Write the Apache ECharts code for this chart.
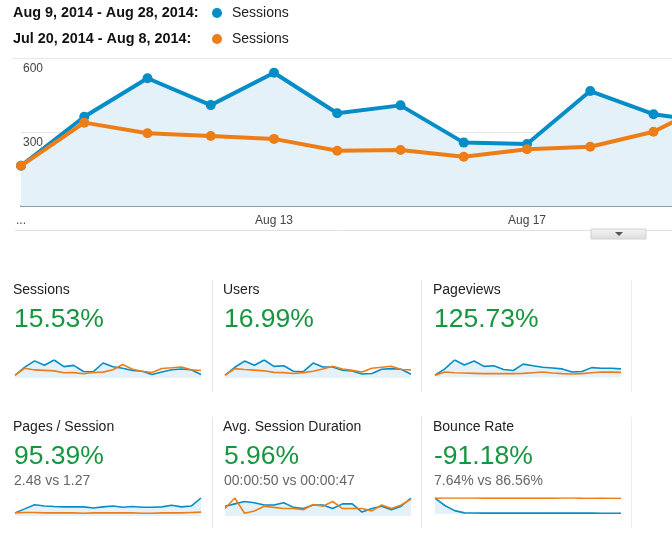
<!DOCTYPE html>
<html><head><meta charset="utf-8">
<script src="https://cdn.jsdelivr.net/npm/echarts@6/dist/echarts.min.js"></script>
<style>html,body{margin:0;padding:0;background:#fff}#c{width:672px;height:559px}</style>
</head><body><div id="c"></div><script>
// ---- data ----
const days = ['Aug 9','Aug 10','Aug 11','Aug 12','Aug 13','Aug 14','Aug 15','Aug 16','Aug 17','Aug 18',
  'Aug 19','Aug 20','Aug 21','Aug 22','Aug 23','Aug 24','Aug 25','Aug 26','Aug 27','Aug 28'];
const sessionsCur  = [163, 362, 518, 409, 540, 376, 408, 257, 251, 466, 372, 336, 280, 261, 183, 242, 300, 319, 300, 183];
const sessionsPrev = [163, 338, 295, 284, 272, 224, 227, 200, 230, 240, 301, 430, 310, 261, 232, 329, 348, 368, 300, 280];
const usersCur  = [150, 330, 470, 375, 495, 350, 365, 240, 230, 425, 335, 335, 262, 245, 180, 190, 285, 300, 285, 172];
const usersPrev = [150, 300, 280, 265, 250, 215, 210, 190, 210, 240, 290, 355, 290, 260, 225, 310, 330, 355, 280, 272];
const pageviewsCur  = [150, 650, 1350, 950, 1275, 850, 900, 600, 525, 1025, 900, 775, 725, 650, 400, 450, 750, 700, 700, 650];
const pageviewsPrev = [150, 400, 350, 325, 300, 275, 275, 275, 275, 300, 350, 400, 325, 275, 250, 275, 350, 400, 400, 375];
const pagesPerSessionCur  = [1.27, 2.02, 2.78, 2.55, 2.47, 2.40, 2.40, 2.40, 2.17, 2.40, 2.55, 2.32, 2.47, 2.32, 2.32, 2.40, 2.70, 2.40, 2.55, 4.06];
const pagesPerSessionPrev = [1.27, 1.35, 1.35, 1.27, 1.27, 1.27, 1.27, 1.20, 1.27, 1.27, 1.27, 1.27, 1.27, 1.20, 1.20, 1.27, 1.27, 1.27, 1.35, 1.42];
const durationCur  = [50, 54, 58, 56, 52, 52, 56, 48, 46, 52, 52, 46, 54, 54, 40, 46, 50, 44, 50, 64];
const durationPrev = [46, 64, 38, 42, 50, 48, 46, 46, 44, 53, 50, 58, 46, 46, 46, 42, 52, 46, 52, 62];
const bounceCur  = [86.0, 46.2, 18.4, 6.1, 5.3, 5.0, 4.8, 4.6, 4.9, 5.1, 5.0, 4.7, 4.9, 5.2, 4.8, 4.6, 4.9, 4.4, 4.3, 4.1];
const bouncePrev = [86.1, 87.0, 86.8, 86.9, 86.7, 86.5, 86.6, 86.4, 86.6, 86.3, 86.5, 86.2, 86.4, 86.6, 86.7, 86.3, 86.0, 86.2, 85.9, 85.8];
const yTicks = [0, 300, 600];
const legendRanges = ['Aug 9, 2014 - Aug 28, 2014:', 'Jul 20, 2014 - Aug 8, 2014:'];
const legendMetric = 'Sessions';
const metricNames   = ['Sessions', 'Users', 'Pageviews', 'Pages / Session', 'Avg. Session Duration', 'Bounce Rate'];
const metricChanges = ['15.53%', '16.99%', '125.73%', '95.39%', '5.96%', '-91.18%'];
const metricCompare = ['', '', '', '2.48 vs 1.27', '00:00:50 vs 00:00:47', '7.64% vs 86.56%'];
const metricCur  = [sessionsCur, usersCur, pageviewsCur, pagesPerSessionCur, durationCur, bounceCur];
const metricPrev = [sessionsPrev, usersPrev, pageviewsPrev, pagesPerSessionPrev, durationPrev, bouncePrev];

// ---- styles ----
const BLUE = '#058dc7', ORANGE = '#ed7e17', FILL = '#e5f1f8', GREEN = '#16963f';
const FONT = '"Liberation Sans", Arial, Helvetica, sans-serif';
const step = 63.25;

const chart = echarts.init(document.getElementById('c'), null, {renderer: 'canvas'});

const grids = [{left: 21, top: 58, width: step * (days.length - 1), height: 148, outerBoundsMode: 'none', containLabel: false}];
const xAxes = [{
  type: 'category', gridIndex: 0, data: days, boundaryGap: false,
  axisLine: {lineStyle: {color: '#8f9aa6', width: 2}},
  axisTick: {show: false},
  axisLabel: {interval: 3, margin: 9, color: '#444', fontSize: 12, fontFamily: FONT,
    formatter: (v, i) => i === 0 ? '...' : v}
}];
const yAxes = [{
  type: 'value', gridIndex: 0, min: yTicks[0], max: yTicks[yTicks.length - 1], interval: yTicks[1] - yTicks[0],
  axisLine: {show: false}, axisTick: {show: false},
  splitLine: {lineStyle: {color: '#e6e6e6'}},
  axisLabel: {inside: true, margin: 2, verticalAlign: 'top', padding: [5, 0, 0, 0], color: '#444', fontSize: 12,
    fontFamily: FONT, formatter: v => v === 0 ? '' : String(v)}
}];
const series = [
  {type: 'line', xAxisIndex: 0, yAxisIndex: 0, data: sessionsCur, color: BLUE, symbol: 'circle', symbolSize: 10,
   lineStyle: {width: 4}, areaStyle: {color: FILL, opacity: 1}, z: 2, animation: false},
  {type: 'line', xAxisIndex: 0, yAxisIndex: 0, data: sessionsPrev, color: ORANGE, symbol: 'circle', symbolSize: 10,
   lineStyle: {width: 4}, z: 3, animation: false}
];

const colX = [13, 223, 433];
const sparkLeft = [15, 225, 435];
const rowTitleY = [290, 427];
const rowBigY = [320, 457];
const rowCompareY = [481, 481];
const sparkTop = [360, 498];
const sparkH = 18;

const graphic = [];
function txt(x, y, text, size, color, weight) {
  graphic.push({type: 'text', x: x, y: y, silent: true,
    style: {text: text, fill: color, fontSize: size, fontFamily: FONT, fontWeight: weight || 'normal',
            verticalAlign: 'middle', align: 'left'}});
}
function line(x1, y1, x2, y2, color, w) {
  graphic.push({type: 'line', silent: true, shape: {x1, y1, x2, y2}, style: {stroke: color, lineWidth: w || 1}});
}

// legend
[13, 39].forEach((y, i) => {
  txt(13, y, legendRanges[i], 14.4, '#111', 'bold');
  graphic.push({type: 'circle', shape: {cx: 217, cy: y, r: 5}, style: {fill: i === 0 ? BLUE : ORANGE}, silent: true});
  txt(232, y, legendMetric, 14, '#222');
});

// chart frame bits
line(13, 58.5, 21, 58.5, '#e6e6e6');
line(15, 230.5, 672, 230.5, '#e2e2e2');
graphic.push({type: 'rect', shape: {x: 591, y: 229, width: 55, height: 10},
  style: {fill: new echarts.graphic.LinearGradient(0, 0, 0, 1, [{offset: 0, color: '#f4f4f4'}, {offset: 1, color: '#dcdcdc'}]),
          stroke: '#d2d2d2', lineWidth: 1}, silent: true});
graphic.push({type: 'polygon', shape: {points: [[615, 232], [623, 232], [619, 236]]}, style: {fill: '#555'}, silent: true});

// dividers
[[280, 392], [417, 528]].forEach(([a, b]) => {
  line(212.5, a, 212.5, b, '#e4e4e4');
  line(421.5, a, 421.5, b, '#e4e4e4');
  line(631.5, a, 631.5, b, '#ececec');
});

// scorecards
metricNames.forEach((name, k) => {
  const r = Math.floor(k / 3), c = k % 3;
  txt(colX[c], rowTitleY[r], name, 14, '#222');
  txt(colX[c] + 1, rowBigY[r], metricChanges[k], 26.5, GREEN);
  if (metricCompare[k]) txt(colX[c] + 1, rowCompareY[r], metricCompare[k], 14, '#666');
  const gi = grids.length;
  grids.push({left: sparkLeft[c], top: sparkTop[r], width: 186, height: sparkH, outerBoundsMode: 'none', containLabel: false});
  xAxes.push({type: 'category', gridIndex: gi, data: days, boundaryGap: false, show: false});
  yAxes.push({type: 'value', gridIndex: gi, show: false, scale: true,
    min: v => v.min - (v.max - v.min) * 0.18, max: v => v.max, splitLine: {show: false}});
  series.push({type: 'line', xAxisIndex: gi, yAxisIndex: gi, data: metricCur[k], color: BLUE, symbol: 'none',
    lineStyle: {width: 1.6}, areaStyle: {color: FILL, opacity: 1}, z: 2, animation: false});
  series.push({type: 'line', xAxisIndex: gi, yAxisIndex: gi, data: metricPrev[k], color: ORANGE, symbol: 'none',
    lineStyle: {width: 1.6}, z: 3, animation: false});
});

chart.setOption({
  animation: false,
  grid: grids, xAxis: xAxes, yAxis: yAxes, series: series, graphic: graphic
});
</script></body></html>
